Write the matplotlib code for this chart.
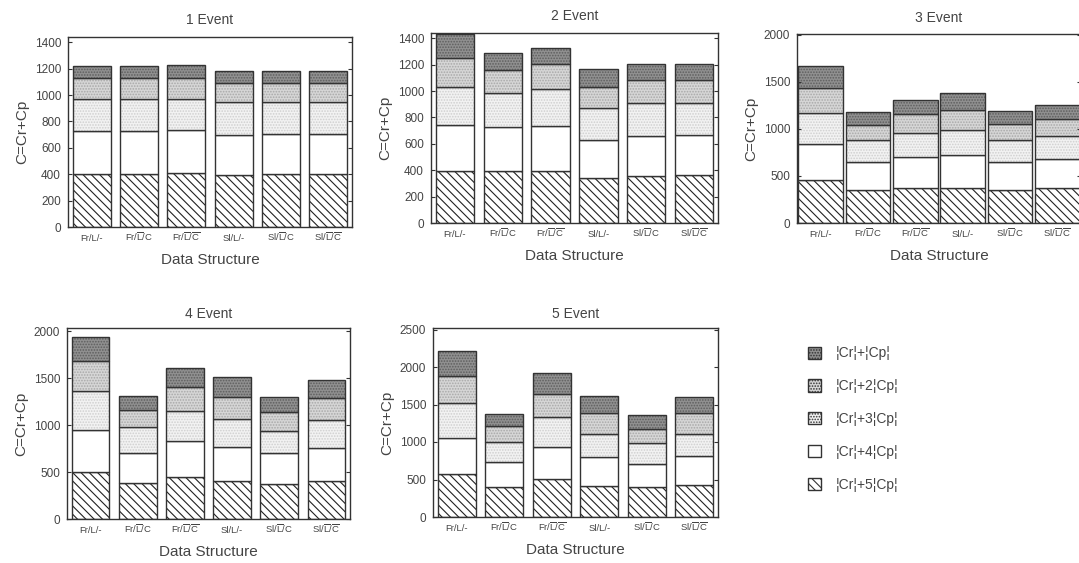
import matplotlib.pyplot as plt
from matplotlib.patches import Patch
import numpy as np

plt.rcParams['font.family'] = ['Liberation Sans', 'DejaVu Sans']
plt.rcParams['mathtext.fontset'] = 'custom'
plt.rcParams['mathtext.rm'] = 'Liberation Sans'
plt.rcParams['hatch.linewidth'] = 0.8

structures = ['Fr/L/-', r'Fr/$\overline{\mathrm{L}}$/C', r'Fr/$\overline{\mathrm{L}}$/$\overline{\mathrm{C}}$',
              'Sl/L/-', r'Sl/$\overline{\mathrm{L}}$/C', r'Sl/$\overline{\mathrm{L}}$/$\overline{\mathrm{C}}$']

layer_labels = ['¦Cr¦+5¦Cp¦', '¦Cr¦+4¦Cp¦', '¦Cr¦+3¦Cp¦', '¦Cr¦+2¦Cp¦', '¦Cr¦+¦Cp¦']

# top of each stacked layer (bottom layer first), one row per structure
event1 = [[405, 725, 968, 1130, 1220],
          [405, 725, 968, 1130, 1220],
          [412, 732, 970, 1130, 1230],
          [395, 700, 950, 1093, 1180],
          [400, 708, 950, 1093, 1180],
          [400, 708, 950, 1093, 1180]]
event2 = [[393, 744, 1034, 1249, 1430],
          [391, 727, 984, 1160, 1287],
          [391, 737, 1014, 1203, 1324],
          [341, 631, 870, 1034, 1165],
          [360, 663, 913, 1085, 1206],
          [366, 668, 913, 1085, 1206]]
event3 = [[453, 835, 1168, 1437, 1667],
          [347, 648, 878, 1044, 1179],
          [375, 701, 956, 1161, 1310],
          [375, 719, 984, 1204, 1384],
          [354, 648, 885, 1055, 1196],
          [372, 676, 924, 1108, 1257]]
event4 = [[505, 950, 1359, 1680, 1940],
          [388, 701, 975, 1164, 1312],
          [445, 836, 1153, 1406, 1610],
          [409, 762, 1064, 1299, 1512],
          [374, 701, 940, 1142, 1295],
          [409, 754, 1050, 1285, 1478]]
event5 = [[572, 1050, 1518, 1883, 2210],
          [396, 730, 1000, 1216, 1370],
          [505, 937, 1329, 1644, 1915],
          [414, 797, 1113, 1387, 1618],
          [396, 712, 982, 1180, 1360],
          [428, 811, 1113, 1387, 1595]]

events = [event1, event2, event3, event4, event5]
titles = ['1 Event', '2 Event', '3 Event', '4 Event', '5 Event']
ylims = [1440, 1440, 2010, 2035, 2520]
yticks = [np.arange(0, 1401, 200), np.arange(0, 1401, 200), np.arange(0, 2001, 500),
          np.arange(0, 2001, 500), np.arange(0, 2501, 500)]

# bottom to top: hatched, white, pale stipple, light stipple, dark stipple
faces = ['white', 'white', '#f2f2f2', '#d6d6d6', '#909090']
hatch_cols = ['#222222', 'white', '#cfcfcf', '#a8a8a8', '#5e5e5e']
hatches = ['\\\\\\\\', None, '......', '......', '......']
edge = '#333333'
text_col = '#444444'

# axes boxes in pixels: left, top, right, bottom
W, H = 1079, 563
boxes = [(68, 37, 352, 227), (431, 33, 718, 223), (797, 34, 1081, 223),
         (67, 328, 350, 519), (433, 328, 718, 517)]
widths = [0.8, 0.8, 0.95, 0.8, 0.8]
title_pads = [9, 9, 9, 7, 7]

fig = plt.figure(figsize=(W / 100, H / 100), dpi=100)

for k, data in enumerate(events):
    l, t, r, b = boxes[k]
    ax = fig.add_axes([l / W, (H - b) / H, (r - l) / W, (b - t) / H])
    tops = np.array(data, dtype=float)
    bottoms = np.hstack([np.zeros((len(tops), 1)), tops[:, :-1]])
    x = np.arange(len(structures))
    for j in range(tops.shape[1]):
        h = tops[:, j] - bottoms[:, j]
        ax.bar(x, h, widths[k], bottom=bottoms[:, j], color=faces[j],
               hatch=hatches[j], edgecolor=hatch_cols[j], linewidth=0)
        ax.bar(x, h, widths[k], bottom=bottoms[:, j], fill=False,
               edgecolor=edge, linewidth=1.0)
    ax.set_xlim(-0.5, 5.5)
    ax.set_ylim(0, ylims[k])
    ax.set_yticks(yticks[k])
    ax.set_xticks(x)
    ax.set_xticklabels(structures, fontsize=6.8, color=text_col)
    for lab in ax.get_xticklabels():
        lab.set_verticalalignment('baseline')
    ax.tick_params(axis='x', length=0, pad=10)
    ax.tick_params(axis='y', direction='in', length=3, right=True, labelsize=8.5,
                   labelcolor=text_col, color=edge, pad=5)
    for sp in ax.spines.values():
        sp.set_color(edge)
        sp.set_linewidth(1.0)
    ax.set_title(titles[k], fontsize=10, color=text_col, pad=title_pads[k])
    ax.set_xlabel('Data Structure', fontsize=11, color=text_col, labelpad=7)
    ax.set_ylabel('C=Cr+Cp', fontsize=11, color=text_col, labelpad=4)

handles = []
for j in range(len(layer_labels) - 1, -1, -1):
    handles.append(Patch(facecolor=faces[j], hatch=hatches[j], edgecolor=edge, linewidth=1.0))
legend_labels = layer_labels[::-1]
fig.legend(handles, legend_labels, loc='upper left', bbox_to_anchor=(795 / W, 1 - 334 / H),
           frameon=False, fontsize=10, handlelength=1.0, handleheight=1.0,
           labelspacing=1.35, handletextpad=1.0, labelcolor=text_col)

fig.savefig('out.png', dpi=100)
